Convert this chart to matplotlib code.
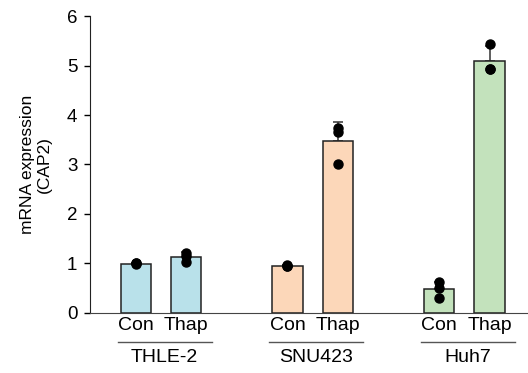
import numpy as np
import matplotlib
matplotlib.use('Agg')
import matplotlib.pyplot as plt

plt.rcParams['font.family'] = ['Liberation Sans', 'DejaVu Sans']

# values
groups = ['THLE-2', 'SNU423', 'Huh7']
conds = ['Con', 'Thap']
colors = ['#b9e1ea', '#fcd7b9', '#c3e2bc']
points = [
    [1.01, 1.00, 0.98],   # THLE-2 Con
    [1.21, 1.15, 1.03],   # THLE-2 Thap
    [0.95, 0.96, 0.94],   # SNU423 Con
    [3.02, 3.66, 3.74],   # SNU423 Thap
    [0.62, 0.50, 0.31],   # Huh7 Con
    [5.43, 4.92, 4.93],   # Huh7 Thap
]

pos = [0, 1, 3, 4, 6, 7]
means = [np.mean(p) for p in points]
sds = [np.std(p, ddof=1) for p in points]

fig = plt.figure(figsize=(5.28, 3.73), dpi=100)
ax = fig.add_axes([0.170, 0.161, 0.828, 0.796])

for i, x in enumerate(pos):
    c = colors[i // 2]
    ax.errorbar(x, means[i], yerr=[[0], [sds[i]]], fmt='none', ecolor='#333333',
                elinewidth=1.1, capsize=3.6, capthick=1.1, zorder=1)
    ax.bar(x, means[i], width=0.6, color=c, edgecolor='#222222', linewidth=1.1, zorder=2)
    ax.plot([x] * len(points[i]), points[i], 'o', color='black', markersize=6.5, zorder=3)

ax.set_ylim(0, 6)
ax.set_xlim(-0.91, 7.74)
ax.set_yticks(range(7))
ax.tick_params(axis='y', labelsize=13.5, length=4, width=1, direction='out', pad=5)
ax.set_xticks(pos)
ax.set_xticklabels(conds * 3, fontsize=14)
ax.tick_params(axis='x', length=0, pad=3)
ax.spines['top'].set_visible(False)
ax.spines['right'].set_visible(False)
ax.spines['left'].set_color('#222222')
ax.spines['bottom'].set_color('#444444')
ax.set_ylabel('mRNA expression\n(CAP2)', fontsize=12.5, linespacing=1.1, labelpad=11)

trans = ax.get_xaxis_transform()
for g, name in enumerate(groups):
    x0 = pos[2 * g]
    ax.plot([x0 - 0.36, x0 + 1.5], [-0.098, -0.098], color='#555555', lw=1,
            transform=trans, clip_on=False)
    ax.text(x0 + 0.57, -0.150, name, fontsize=14, ha='center', va='center', transform=trans)

fig.savefig('out.png', dpi=100)
